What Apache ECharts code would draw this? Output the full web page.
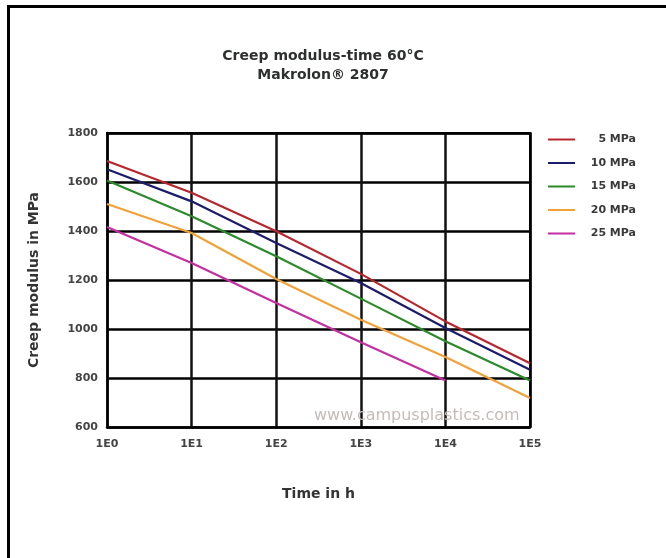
<!DOCTYPE html>
<html>
<head>
<meta charset="utf-8">
<script src="https://cdn.jsdelivr.net/npm/echarts@6/dist/echarts.min.js"></script>
<style>html,body{margin:0;padding:0;background:#fff}#c{width:666px;height:558px}</style>
</head>
<body>
<div id="c"></div>
<script>
var times = [1, 10, 100, 1000, 10000, 100000];
var seriesNames = ['5 MPa', '10 MPa', '15 MPa', '20 MPa', '25 MPa'];
var mpa5  = [1686, 1556, 1399, 1225, 1031, 860];
var mpa10 = [1652, 1521, 1351, 1188, 1004, 834];
var mpa15 = [1606, 1460, 1297, 1124, 950, 790];
var mpa20 = [1510, 1392, 1204, 1038, 886, 718];
var mpa25 = [1416, 1269, 1106, 946, 790];
var colors = ['#b8262c', '#1c1c6a', '#2b8a2b', '#f0a23a', '#c42fa0'];
var yTicks = [600, 800, 1000, 1200, 1400, 1600, 1800];

function pairs(v){ return v.map(function(y,i){ return [times[i], y]; }); }
var allData = [mpa5, mpa10, mpa15, mpa20, mpa25];

var chart = echarts.init(document.getElementById('c'), null, {renderer:'canvas'});
var font = 'DejaVu Sans, sans-serif';
chart.setOption({
  backgroundColor: '#ffffff',
  animation: false,
  title: {
    text: 'Creep modulus-time 60°C\nMakrolon® 2807',
    left: 318, top: 42, textAlign: 'center',
    textStyle: {fontSize: 14, fontWeight: 'bold', color: '#2e3030', fontFamily: font, lineHeight: 19}
  },
  legend: {
    orient: 'vertical', left: 543, top: 129, itemGap: 12.5,
    icon: 'rect', itemWidth: 27, itemHeight: 2,
    data: seriesNames,
    formatter: function(n){ return '{a|' + n + '}'; },
    textStyle: {fontFamily: font, fontSize: 11, color: '#333',
      rich: {a: {width: 56, align: 'right', lineHeight: 11, fontSize: 11, fontWeight: 'bold', color: '#3a3a3a', fontFamily: font}}}
  },
  grid: {left: 107, right: 136, top: 133, bottom: 131},
  xAxis: {
    type: 'log', logBase: 10, min: 1, max: 100000,
    name: 'Time in h', nameLocation: 'middle', nameGap: 60,
    nameTextStyle: {fontSize: 14, fontWeight: 'bold', color: '#333', fontFamily: font},
    axisLine: {show: true, lineStyle: {color: '#000', width: 2.5}},
    axisTick: {show: false},
    axisLabel: {color: '#444', fontSize: 11, fontWeight: 'bold', fontFamily: font, margin: 12,
      formatter: function(v){ return '1E' + Math.round(Math.log10(v)); }},
    splitLine: {show: true, lineStyle: {color: '#111', width: 2.5}},
    minorSplitLine: {show: false}
  },
  yAxis: {
    type: 'value', min: 600, max: 1800, interval: 200,
    name: 'Creep modulus in MPa', nameLocation: 'middle', nameGap: 66, nameRotate: 90,
    nameTextStyle: {fontSize: 14, fontWeight: 'bold', color: '#333', fontFamily: font},
    axisLine: {show: true, lineStyle: {color: '#000', width: 2.5}},
    axisTick: {show: false},
    axisLabel: {color: '#444', fontSize: 11, fontWeight: 'bold', fontFamily: font, margin: 9,
      formatter: function(v){ return yTicks.indexOf(v) >= 0 ? String(v) : ''; }},
    splitLine: {show: true, lineStyle: {color: '#000', width: 2.5}}
  },
  graphic: [
    {type: 'rect', shape: {x: 529, y: 132, width: 2.5, height: 296}, style: {fill: '#000'}, z: 10},
    {type: 'rect', shape: {x: 106, y: 132, width: 425, height: 2.5}, style: {fill: '#000'}, z: 10},
    {type: 'rect', shape: {x: 7, y: 5, width: 666, height: 3}, style: {fill: '#000'}},
    {type: 'rect', shape: {x: 7, y: 5, width: 3, height: 560}, style: {fill: '#000'}},
    {type: 'text', left: 314, top: 408, style: {text: 'www.campusplastics.com', fontSize: 16, fill: '#c4bcb9', fontFamily: font}, z: 5}
  ],
  series: allData.map(function(d, i){
    return {
      name: seriesNames[i], type: 'line', data: pairs(d),
      showSymbol: false, symbol: 'none',
      lineStyle: {color: colors[i], width: 2.2},
      itemStyle: {color: colors[i]}, z: 20
    };
  })
});
</script>
</body>
</html>
